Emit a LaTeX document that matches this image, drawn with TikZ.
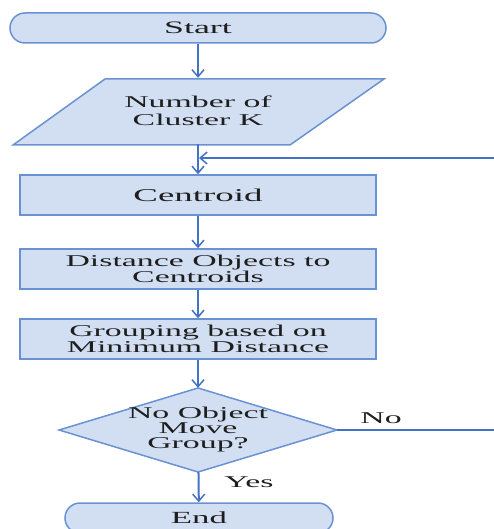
\documentclass[tikz,border=0pt]{standalone}
\usepackage{fontspec}
\setmainfont{Liberation Serif}
\newfontfamily\wf[FakeStretch=2.05]{Liberation Serif}
\usetikzlibrary{arrows.meta}
\definecolor{boxfill}{HTML}{D2DFF3}
\definecolor{boxline}{HTML}{6A92D2}
\definecolor{arrowc}{HTML}{4472C4}
\definecolor{txt}{HTML}{1E1E1E}
\begin{document}
\begin{tikzpicture}[x=1pt,y=-1pt,
  box/.style={draw=boxline, fill=boxfill, line width=1.5pt, minimum width=356pt,
    minimum height=40pt, inner sep=0pt, align=center, text=txt,
    font=\wf\fontsize{16.5}{15.5}\selectfont},
  term/.style={box, rounded corners=15pt, minimum height=30pt},
  shapefill/.style={draw=boxline, fill=boxfill, line width=1.5pt, line join=miter},
  shapetext/.style={draw=none, fill=none, inner sep=0pt, align=center, text=txt,
    font=\wf\fontsize{16.5}{15.5}\selectfont},
  conn/.style={draw=arrowc, line width=2pt,
    -{Straight Barb[length=7pt,width=12pt,line width=1.5pt]}},
  lbl/.style={text=txt, font=\wf\fontsize{16.5}{16}\selectfont, inner sep=0pt}]
\useasboundingbox (0,0) rectangle (494,529);
% terminals and boxes
\node[term, minimum width=376pt, font=\wf\fontsize{17.5}{17}\selectfont] (start) at (198,28) {Start};
\path[shapefill] (105,79) -- (384,79) -- (290,145) -- (13,145) -- cycle;
\node[shapetext, minimum width=200pt, minimum height=66pt, font=\wf\fontsize{16.5}{18.5}\selectfont] (num) at (198,111) {Number of\\Cluster K};
\node[box, font=\wf\fontsize{18}{18}\selectfont] (cen) at (198,195) {Centroid};
\node[box] (dist) at (198,269) {Distance Objects to\\Centroids};
\node[box] (grp) at (198,339) {Grouping based on\\Minimum Distance};
\path[shapefill] (198,388) -- (337,430) -- (198,472) -- (59,430) -- cycle;
\node[shapetext, minimum width=278pt, minimum height=84pt, font=\wf\fontsize{16.5}{15}\selectfont] (dec) at (198,430) {No Object\\Move\\Group?};
\node[term, minimum width=268pt, font=\wf\fontsize{17}{17}\selectfont] (endn) at (199,518) {End};
% labels
\node[lbl] (no) at (381,418) {No};
\node[lbl] (yes) at (249,482) {Yes};
% connectors
\draw[conn] (start) -- (num);
\draw[conn] (num) -- (cen);
\draw[conn] (cen) -- (dist);
\draw[conn] (dist) -- (grp);
\draw[conn] (grp) -- (dec);
\draw[conn] (dec) -- (endn);
\coordinate (r1) at (515,430);
\coordinate (r2) at (515,158);
\coordinate (j) at (199,158);
\draw[conn] (dec.east) -- (r1) -- (r2) -- (j);
\end{tikzpicture}
\end{document}
